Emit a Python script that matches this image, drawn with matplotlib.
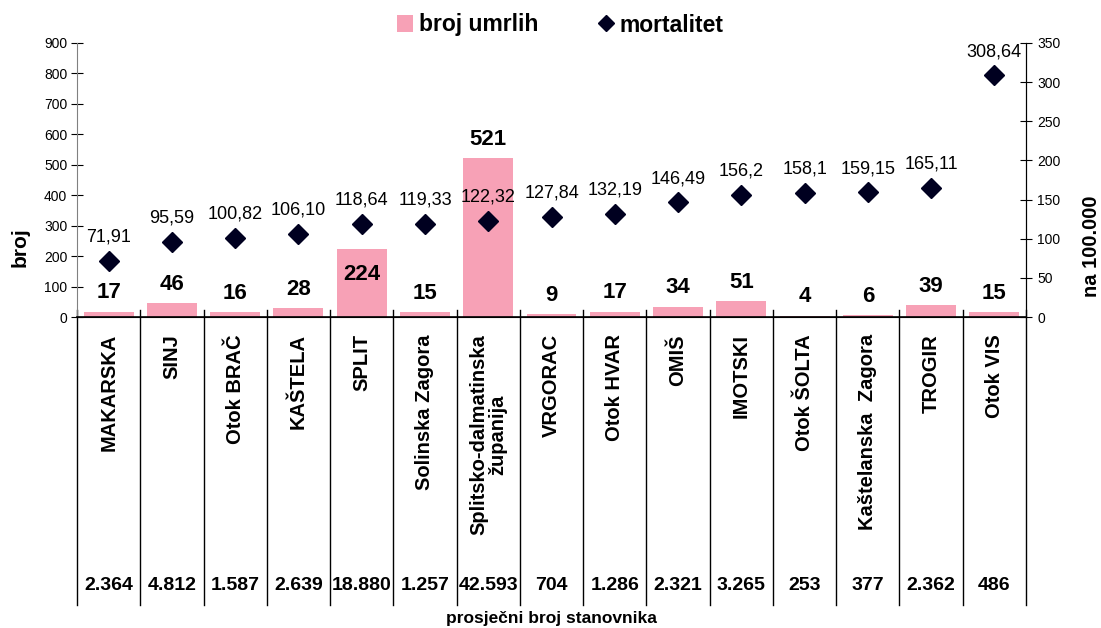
import numpy as np
import matplotlib
matplotlib.use("Agg")
import matplotlib.pyplot as plt
from matplotlib.patches import Patch
from matplotlib.lines import Line2D

plt.rcParams['font.family'] = ['Liberation Sans', 'DejaVu Sans']

# data
gradovi = ['MAKARSKA', 'SINJ', 'Otok BRAČ', 'KAŠTELA', 'SPLIT', 'Solinska Zagora',
           'Splitsko-dalmatinska\nžupanija', 'VRGORAC', 'Otok HVAR', 'OMIŠ', 'IMOTSKI',
           'Otok ŠOLTA', 'Kaštelanska  Zagora', 'TROGIR', 'Otok VIS']
broj_umrlih = [17, 46, 16, 28, 224, 15, 521, 9, 17, 34, 51, 4, 6, 39, 15]
mortalitet = [71.91, 95.59, 100.82, 106.10, 118.64, 119.33, 122.32, 127.84,
              132.19, 146.49, 156.2, 158.1, 159.15, 165.11, 308.64]
mort_labels = ['71,91', '95,59', '100,82', '106,10', '118,64', '119,33', '122,32',
               '127,84', '132,19', '146,49', '156,2', '158,1', '159,15', '165,11', '308,64']
stanovnici = ['2.364', '4.812', '1.587', '2.639', '18.880', '1.257', '42.593', '704',
              '1.286', '2.321', '3.265', '253', '377', '2.362', '486']

bar_color = '#F7A1B6'
mark_color = '#000020'

fig = plt.figure(figsize=(11.01, 6.28), dpi=100)
ax = fig.add_axes([77 / 1101, 1 - 317 / 628, (1026 - 77) / 1101, 274 / 628])
ax2 = ax.twinx()

n = len(gradovi)
x = np.arange(n)
ax.bar(x, broj_umrlih, width=0.79, color=bar_color, zorder=2)
ax.set_xlim(-0.5, n - 0.5)
ax.set_ylim(0, 900)
ax.set_yticks(np.arange(0, 901, 100))
ax.set_xticks(np.arange(n + 1) - 0.5)
ax.set_xticklabels([])
ax.tick_params(axis='x', length=0)
ax.tick_params(axis='y', direction='inout', length=8, labelsize=10, pad=3)
ax.set_ylabel('broj', fontsize=15, fontweight='bold')
ax.yaxis.set_label_coords(-0.0495, 0.255)

ax2.plot(x, mortalitet, linestyle='none', marker='D', markersize=10,
         color=mark_color, zorder=3)
ax2.set_ylim(0, 350)
ax2.set_yticks(np.arange(0, 351, 50))
ax2.tick_params(axis='y', direction='inout', length=8, labelsize=10, pad=4)
ax2.set_ylabel('na 100.000', fontsize=14.5, fontweight='bold')
ax2.yaxis.set_label_coords(1.0585, 0.26)

for a in (ax, ax2):
    a.spines['top'].set_visible(False)
ax.spines['left'].set_color('#808080')
ax2.spines['left'].set_visible(False)
ax.spines['bottom'].set_linewidth(1.2)

# bar value labels (SPLIT sits inside the bar as in the original)
for i, v in enumerate(broj_umrlih):
    off = -26 if gradovi[i] == 'SPLIT' else 6
    ax.annotate(str(v), (x[i], v), xytext=(0, off), textcoords='offset points',
                ha='center', va='bottom', fontsize=16, fontweight='bold', zorder=4)

for i, v in enumerate(mortalitet):
    ax2.annotate(mort_labels[i], (x[i], v), xytext=(0, 11), textcoords='offset points',
                 ha='center', va='bottom', fontsize=13, zorder=4)

# table under the axis
trans = ax.get_xaxis_transform()
bottom = -(605 - 317) / 274
for b in np.arange(n + 1) - 0.5:
    ax.plot([b, b], [7 / 274, bottom], transform=trans, color='black', lw=1,
            clip_on=False, zorder=1)
for i, name in enumerate(gradovi):
    ax.text(x[i], -(334 - 317) / 274, name, transform=trans, rotation=90,
            ha='center', va='top', fontsize=14.5, fontweight='bold', multialignment='center',
            linespacing=1.0)
    ax.text(x[i], -(585 - 317) / 274, stanovnici[i], transform=trans,
            ha='center', va='center', fontsize=14, fontweight='bold')
ax.text(0.5, -(618 - 317) / 274, 'prosječni broj stanovnika', transform=ax.transAxes,
        ha='center', va='center', fontsize=12.5, fontweight='bold')

handles = [Patch(facecolor=bar_color, edgecolor='none', label='broj umrlih'),
           Line2D([], [], linestyle='none', marker='D', markersize=8, color=mark_color,
                  label='mortalitet')]
fig.legend(handles=handles, loc='center', bbox_to_anchor=(560 / 1101, 1 - 25 / 628),
           ncol=2, frameon=False, prop={'size': 16.5, 'weight': 'bold'},
           handlelength=0.7, handleheight=0.7, handletextpad=0.25, columnspacing=2.6)

fig.savefig('out.png', dpi=100)
